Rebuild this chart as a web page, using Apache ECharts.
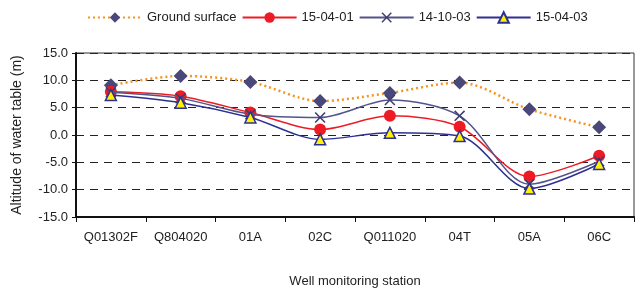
<!DOCTYPE html>
<html>
<head>
<meta charset="utf-8">
<script src="https://cdn.jsdelivr.net/npm/echarts@6/dist/echarts.min.js"></script>
<style>
  html, body { margin: 0; padding: 0; background: #fff; }
  #chart { width: 638px; height: 296px; }
</style>
</head>
<body>
<div id="chart"></div>
<script>
// 监测站点
const stations = ['Q01302F', 'Q804020', '01A', '02C', 'Q011020', '04T', '05A', '06C'];
// 各期水位 (m)
const groundSurface = [9.1, 10.8, 9.7, 6.2, 7.7, 9.6, 4.7, 1.4];
const level150401 = [7.9, 7.1, 4.1, 1.0, 3.5, 1.5, -7.6, -3.8];
const level141003 = [7.8, 6.7, 3.8, 3.2, 6.4, 3.5, -9.0, -4.8];
const level150403 = [7.3, 5.9, 3.2, -0.8, 0.4, -0.2, -9.8, -5.3];
// y轴刻度
const yTicks = [-15, -10, -5, 0, 5, 10, 15];

const font = 'Liberation Sans, Arial, sans-serif';
const crossPath = 'path://M0,1 L1,0 L5,4 L9,0 L10,1 L6,5 L10,9 L9,10 L5,6 L1,10 L0,9 L4,5 Z';

const chart = echarts.init(document.getElementById('chart'));

const option = {
    animation: false,
    textStyle: { fontFamily: font },
    legend: {
        top: 6,
        left: 82,
        itemWidth: 54,
        itemHeight: 13,
        itemGap: 5,
        textStyle: { fontFamily: font, fontSize: 13, color: '#222' },
        data: ['Ground surface', '15-04-01', '14-10-03', '15-04-03']
    },
    grid: {
        left: 76,
        right: 4,
        top: 53,
        bottom: 79,
        show: true,
        borderColor: '#333',
        borderWidth: 1
    },
    xAxis: {
        type: 'category',
        data: stations,
        name: 'Well monitoring station',
        nameLocation: 'middle',
        nameGap: 58,
        nameTextStyle: { fontSize: 13, color: '#222' },
        axisLine: { onZero: false, lineStyle: { color: '#111', width: 2 } },
        axisTick: { show: true, length: 5, lineStyle: { color: '#111' } },
        axisLabel: { fontSize: 13, color: '#222', margin: 14, interval: 0 }
    },
    yAxis: {
        type: 'value',
        min: yTicks[0],
        max: yTicks[yTicks.length - 1],
        interval: 5,
        name: 'Altitude of water table (m)',
        nameLocation: 'middle',
        nameGap: 52,
        nameTextStyle: { fontSize: 14, color: '#222' },
        axisLine: { show: true, lineStyle: { color: '#111', width: 2 } },
        axisTick: { show: true, length: 4, lineStyle: { color: '#111' } },
        axisLabel: {
            fontSize: 13,
            color: '#222',
            margin: 8,
            formatter: v => v.toFixed(1)
        },
        splitLine: {
            lineStyle: { color: '#222', type: [8, 6], width: 1 }
        }
    },
    series: [
        {
            name: 'Ground surface',
            type: 'line',
            data: groundSurface,
            smooth: 0.3,
            symbol: 'diamond',
            symbolSize: 14,
            lineStyle: { color: '#f7941d', width: 2.5, type: [2, 3] },
            itemStyle: { color: '#4a4878' },
            z: 2
        },
        {
            name: '15-04-01',
            type: 'line',
            data: level150401,
            smooth: 0.3,
            symbol: 'circle',
            symbolSize: 12,
            lineStyle: { color: '#ed1c24', width: 1.5 },
            itemStyle: { color: '#ed1c24' },
            z: 3
        },
        {
            name: '14-10-03',
            type: 'line',
            data: level141003,
            smooth: 0.3,
            symbol: crossPath,
            symbolSize: 11,
            lineStyle: { color: '#54548a', width: 1.5 },
            itemStyle: { color: '#3e3e70' },
            z: 4
        },
        {
            name: '15-04-03',
            type: 'line',
            data: level150403,
            smooth: 0.3,
            symbol: 'triangle',
            symbolSize: 11,
            lineStyle: { color: '#2e3192', width: 1.5 },
            itemStyle: { color: '#fff200', borderColor: '#2e3192', borderWidth: 1.5 },
            z: 5
        }
    ]
};

chart.setOption(option);

window.addEventListener('resize', function() {
    chart.resize();
});
</script>
</body>
</html>
